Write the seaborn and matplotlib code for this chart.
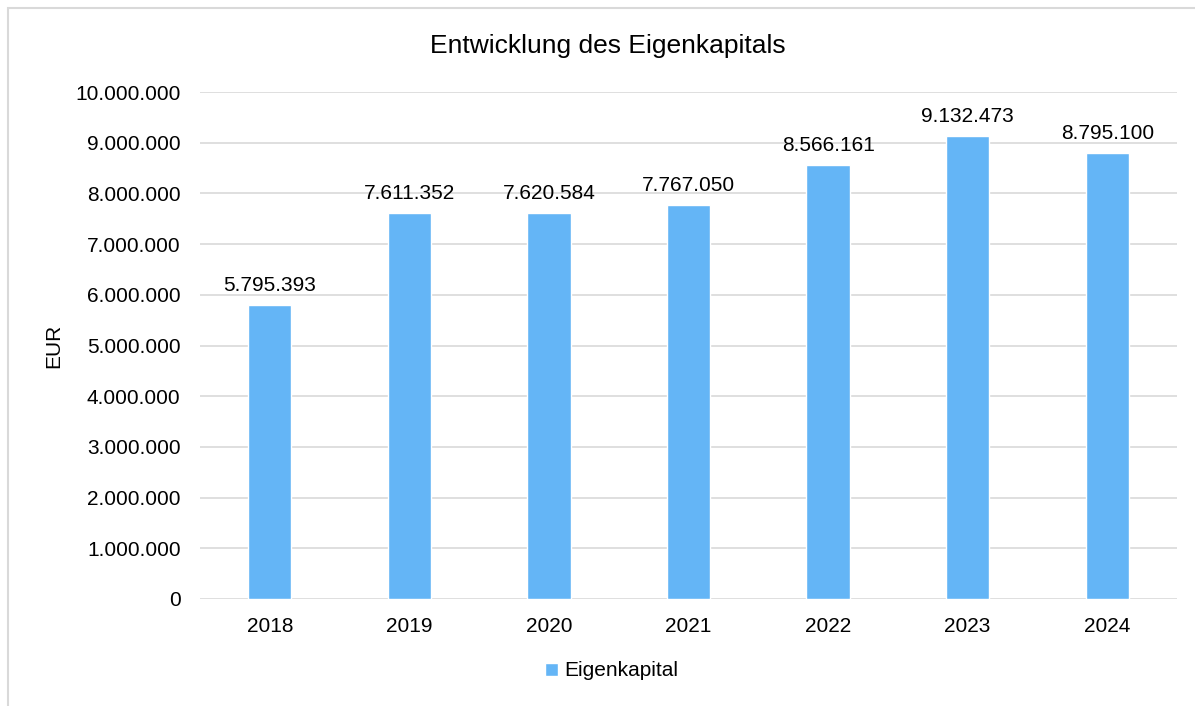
import pandas as pd
import seaborn as sns
import matplotlib.pyplot as plt
from matplotlib.patches import Rectangle

# data
years = ["2018", "2019", "2020", "2021", "2022", "2023", "2024"]
eigenkapital = [5795393, 7611352, 7620584, 7767050, 8566161, 9132473, 8795100]
series_name = "Eigenkapital"

sns.set_theme(style="whitegrid")
plt.rcParams['font.family'] = ['Liberation Sans', 'DejaVu Sans']

df = pd.DataFrame({"Jahr": years, "EUR": eigenkapital, "Reihe": series_name})


def fmt(v):
    return f"{v:,.0f}".replace(",", ".")


fig = plt.figure(figsize=(11.95, 7.06), dpi=100)
ax = fig.add_axes([200 / 1195, 1 - 599 / 706, 977 / 1195, 507 / 706])

sns.barplot(data=df, x="Jahr", y="EUR", hue="Reihe", palette=["#64B5F6"],
            width=0.31, dodge=False, saturation=1, ax=ax)

ax.set_ylim(0, 10000000)
ax.set_yticks(range(0, 10000001, 1000000))
ax.set_yticklabels([fmt(v) for v in range(0, 10000001, 1000000)])
ax.set_xlim(-0.5, len(years) - 0.5)

ax.grid(axis="y", color="#d9d9d9", linewidth=1.2)
ax.grid(axis="x", visible=False)
ax.set_axisbelow(True)
for s in ax.spines.values():
    s.set_visible(False)
ax.tick_params(axis="both", length=0, labelsize=15, colors="black")
ax.tick_params(axis="y", pad=14)
ax.tick_params(axis="x", pad=13)

for c in ax.containers:
    ax.bar_label(c, labels=[fmt(v) for v in eigenkapital], padding=7,
                 fontsize=15, color="black")

ax.set_xlabel("")
ax.set_ylabel("")
fig.text(54 / 1195, 1 - 345.5 / 706, "EUR", rotation=90, ha="center", va="center",
         fontsize=15, color="black")

fig.text(608 / 1195, 1 - 46 / 706, "Entwicklung des Eigenkapitals", ha="center",
         va="center", fontsize=19, color="black")

ax.get_legend().remove()
handles, labels = ax.get_legend_handles_labels()
leg = fig.legend(handles, labels, loc="center", bbox_to_anchor=(0.512, 1 - 671 / 706),
                 frameon=False, fontsize=15, handlelength=0.6, handleheight=0.6,
                 handletextpad=0.3)
for t in leg.get_texts():
    t.set_color("black")

# chart border
fig.patches.append(Rectangle((8 / 1195, -0.05), 1.2, 1 - 8 / 706 + 0.05,
                             transform=fig.transFigure, fill=False,
                             edgecolor="#d9d9d9", linewidth=1.5))

fig.savefig("out.png", dpi=100)
